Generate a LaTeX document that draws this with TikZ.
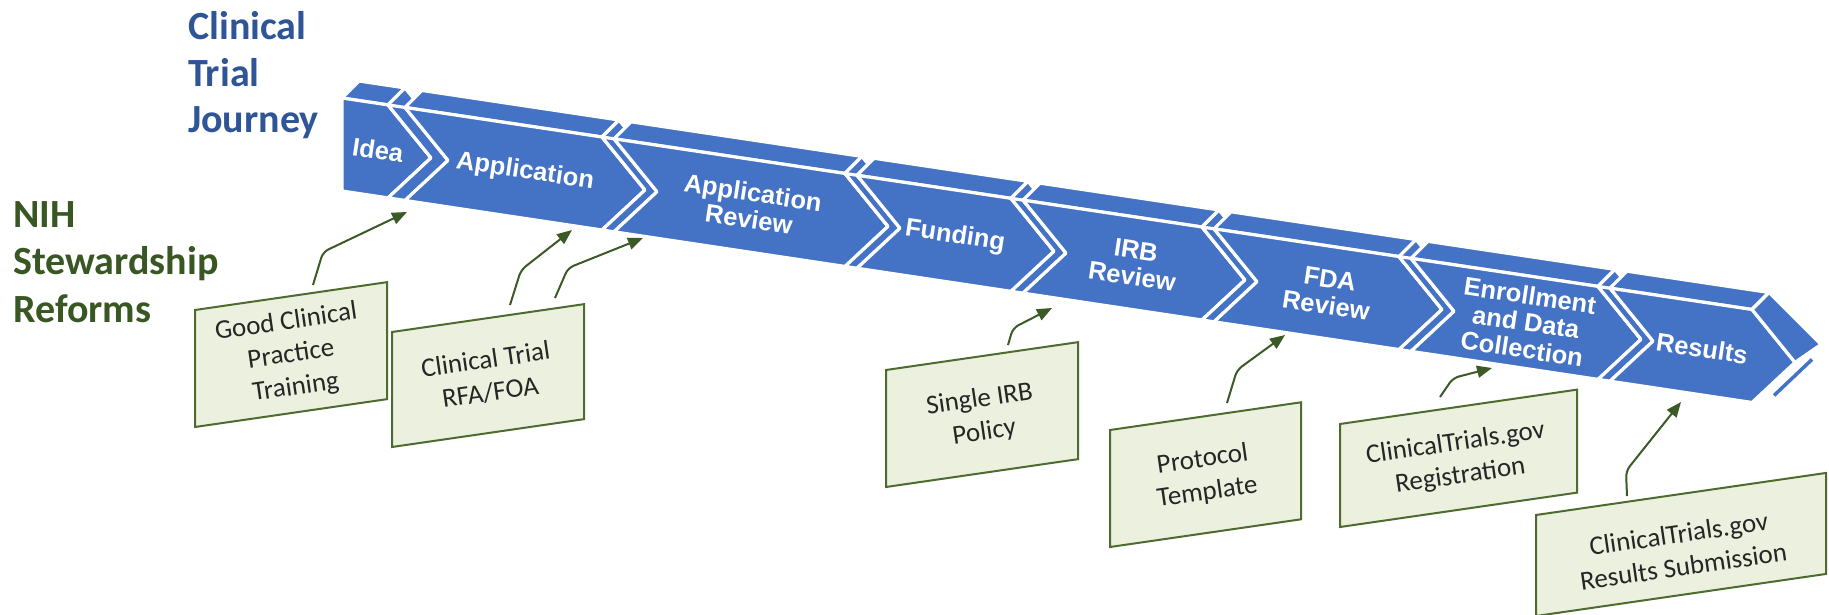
\documentclass[tikz,border=0pt]{standalone}
\usepackage{fontspec}
\setmainfont{Carlito}
\newfontfamily\arialfont{Liberation Sans}
\usetikzlibrary{arrows.meta,calc}
\definecolor{bandblue}{HTML}{4472C4}
\definecolor{titleblue}{HTML}{2F5597}
\definecolor{titlegreen}{HTML}{385723}
\definecolor{boxfill}{HTML}{EBF1DE}
\definecolor{boxline}{HTML}{4F6B2F}
\definecolor{arrowgreen}{HTML}{3B5A26}
\def\H{93}
\def\P{43}
\def\dx{17}
\def\dy{-17}
\def\yt#1{(98+0.15*((#1)-342))}
\newcommand\greenbox[4]{% L, R, TL, h
  \path[reformbox] (#1,#3) -- (#2,{#3-0.145*(#2-#1)}) -- (#2,{#3-0.145*(#2-#1)+#4}) -- (#1,{#3+#4}) -- cycle;}
\begin{document}
\begin{tikzpicture}[x=1pt,y=-1pt,
  bandface/.style={fill=bandblue,draw=white,line width=3.2pt,line join=round},
  chevlabel/.style={text=white,font=\arialfont\bfseries\fontsize{25.5}{27}\selectfont,align=center,rotate=-8.53,inner sep=0pt},
  reformbox/.style={fill=boxfill,draw=boxline,line width=2pt,line join=miter},
  boxlabel/.style={font=\fontsize{27}{33}\selectfont,text=black!85,align=center,rotate=8.25,inner sep=0pt},
  reformlink/.style={draw=arrowgreen,line width=2pt,rounded corners=6pt,-{Triangle[length=15pt,width=12pt]}},
  headline/.style={font=\bfseries\fontsize{40}{47}\selectfont,anchor=base west,inner sep=0pt}
]
\useasboundingbox (0,0) rectangle (1829,615);
\fill[white] (0,0) rectangle (1829,615);

% chevron corner coordinates
\foreach \i/\a/\b in {1/342/388,2/405/602,3/614/845,4/857/1011,5/1023/1202,6/1214/1399,7/1411/1598,8/1610/1752}{
  \coordinate (A\i) at (\a,{\yt{\a}});
  \coordinate (B\i) at (\b,{\yt{\b}});
  \coordinate (T\i) at ({\b+\P},{\yt{\b+\P}+\H/2});
  \coordinate (R\i) at (\b,{\yt{\b}+\H});
  \coordinate (L\i) at (\a,{\yt{\a}+\H});
  \coordinate (N\i) at ({\a+\P},{\yt{\a+\P}+\H/2});
  \coordinate (AD\i) at ({\a+\dx},{\yt{\a}+\dy});
  \coordinate (BD\i) at ({\b+\dx},{\yt{\b}+\dy});
  \coordinate (TD\i) at ({\b+\P+\dx},{\yt{\b+\P}+\H/2+\dy});
}
\coordinate (TE) at ($(T8)+(26,-18)$);

% first chevron (flat left end)
\path[bandface] (A1) -- (B1) -- (BD1) -- (AD1) -- cycle;
\path[bandface] (A1) -- (B1) -- (T1) -- (R1) -- (L1) -- cycle;

% following chevrons
\foreach \i/\j in {1/2,2/3,3/4,4/5,5/6,6/7,7/8}{
  \path[bandface] (B\i) -- (BD\i) -- (TD\i) -- (T\i) -- cycle;
  \path[bandface] (B\i) -- (T\i) -- (R\i) -- (L\j) -- (N\j) -- (A\j) -- cycle;
  \path[bandface] (A\j) -- (B\j) -- (BD\j) -- (AD\j) -- cycle;
  \path[bandface] (A\j) -- (B\j) -- (T\j) -- (R\j) -- (L\j) -- (N\j) -- cycle;
}
% right end of the last chevron
\path[bandface] (B8) -- (BD8) -- (TE) -- (T8) -- cycle;
\draw[bandblue,line width=3.5pt] ($(R8)+(22,-7)$) -- ($(T8)+(17,-3)$);

% chevron labels
\node[chevlabel] (c1) at (378,{\yt{378}+\H/2}) {Idea};
\node[chevlabel] (c2) at (525,{\yt{525}+\H/2}) {Application};
\node[chevlabel] (c3) at (751,{\yt{751}+\H/2}) {Application\\Review};
\node[chevlabel] (c4) at (955,{\yt{955}+\H/2}) {Funding};
\node[chevlabel] (c5) at (1134,{\yt{1134}+\H/2}) {IRB\\Review};
\node[chevlabel] (c6) at (1328,{\yt{1328}+\H/2}) {FDA\\Review};
\node[chevlabel] (c7) at (1526,{\yt{1526}+\H/2}) {Enrollment\\and Data\\Collection};
\node[chevlabel] (c8) at (1702,{\yt{1702}+\H/2}) {Results};

% titles
\node[headline,text=titleblue] (ct1) at (188,40) {Clinical};
\node[headline,text=titleblue] (ct2) at (188,87) {Trial};
\node[headline,text=titleblue] (ct3) at (188,133) {Journey};
\node[headline,text=titlegreen] (nr1) at (13,227) {NIH};
\node[headline,text=titlegreen] (nr2) at (13,274) {Stewardship};
\node[headline,text=titlegreen] (nr3) at (13,322) {Reforms};

% reform boxes
\greenbox{195}{387}{310}{117}
\greenbox{392}{584}{332}{115}
\greenbox{886}{1078}{370}{117}
\greenbox{1110}{1301}{430}{117}
\greenbox{1340}{1577}{424}{103}
\greenbox{1536}{1826}{515}{101}
\node[boxlabel] (g1) at (291,355) {Good Clinical\\Practice\\Training};
\node[boxlabel] (g2) at (488,376) {Clinical Trial\\RFA/FOA};
\node[boxlabel] (g3) at (982,416) {Single IRB\\Policy};
\node[boxlabel] (g4) at (1205,476) {Protocol\\Template};
\node[boxlabel] (g5) at (1458,460) {ClinicalTrials.gov\\Registration};
\node[boxlabel] (g6) at (1681,550) {ClinicalTrials.gov\\Results Submission};

% connectors
\coordinate (s1) at (313,285); \coordinate (m1) at (323,252); \coordinate (e1) at (407,212);
\coordinate (s2) at (510,305); \coordinate (m2) at (521,270); \coordinate (e2) at (572,230);
\coordinate (s3) at (555,298); \coordinate (m3) at (568,268); \coordinate (e3) at (643,238);
\coordinate (s4) at (1008,345); \coordinate (m4) at (1013,328); \coordinate (e4) at (1052,308);
\coordinate (s5) at (1227,403); \coordinate (m5) at (1237,370); \coordinate (e5) at (1285,335);
\coordinate (s6) at (1440,397); \coordinate (m6) at (1453,378); \coordinate (e6) at (1492,368);
\coordinate (s7) at (1627,496); \coordinate (m7) at (1626,471); \coordinate (e7) at (1681,402);
\foreach \k in {1,...,7}{
  \draw[reformlink] (s\k) -- (m\k) -- (e\k);
}
\end{tikzpicture}
\end{document}
